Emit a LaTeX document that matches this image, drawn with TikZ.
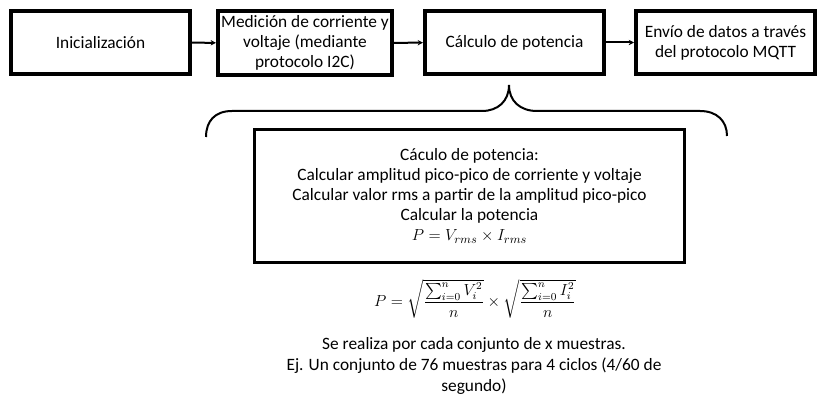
\documentclass[tikz,border=0pt]{standalone}
\usepackage{amsmath}
\usepackage{fontspec}
\setmainfont{Carlito}
\usepackage{tikz}
\usetikzlibrary{arrows.meta}

\begin{document}
\begin{tikzpicture}[x=0.75pt, y=-0.75pt,
  font=\fontsize{13}{15}\selectfont,
  etapa/.style={draw, line width=3pt, align=center, inner sep=0pt,
    minimum width=134.25pt, minimum height=47.25pt},
  flecha/.style={line width=1.5pt, -{Stealth[length=4pt, width=4pt]}}]
\useasboundingbox (0,0) rectangle (827,409);
%\node {\includegraphics{flujo.png}};
\node[etapa] (ini) at (100.5,42.5) {Inicialización};
\node[etapa, minimum width=130.5pt, minimum height=48pt] (med) at (305,43)
  {Medición de corriente y\\ voltaje (mediante\\ protocolo I2C)};
\node[etapa] (calc) at (514.5,42.5) {Cálculo de potencia};
\node[etapa] (envio) at (725.5,42.5) {Envío de datos a través\\ del protocolo MQTT};
\draw[flecha] (ini) -- (med);
\draw[flecha] (med) -- (calc);
\draw[flecha] (calc) -- (envio);
% llave
\draw[line width=1.5pt] (206,137) .. controls (206,121) and (215,111) .. (232,111)
  -- (482,111) .. controls (498,111) and (509,101) .. (509,85)
  .. controls (509,101) and (520,111) .. (537,111)
  -- (700,111) .. controls (717,111) and (727,121) .. (727,136);
\node[draw, line width=2.25pt, align=center, inner sep=0pt,
  minimum width=322.5pt, minimum height=99.75pt] (detalle) at (469.5,196)
  {Cáculo de potencia:\\
   Calcular amplitud pico-pico de corriente y voltaje\\
   Calcular valor rms a partir de la amplitud pico-pico\\
   Calcular la potencia\\
   $P = V_{rms} \times I_{rms}$};
\node[font=\fontsize{12}{14}\selectfont] (formula) at (475,299)
  {$P = \sqrt{\dfrac{\sum_{i=0}^{n} V_i^2}{n}} \times \sqrt{\dfrac{\sum_{i=0}^{n} I_i^2}{n}}$};
\node[align=center, font=\fontsize{13}{15.75}\selectfont] (nota) at (474,366)
  {Se realiza por cada conjunto de x muestras.\\
   Ej. Un conjunto de 76 muestras para 4 ciclos (4/60 de\\
   segundo)};
\end{tikzpicture}
\end{document}
